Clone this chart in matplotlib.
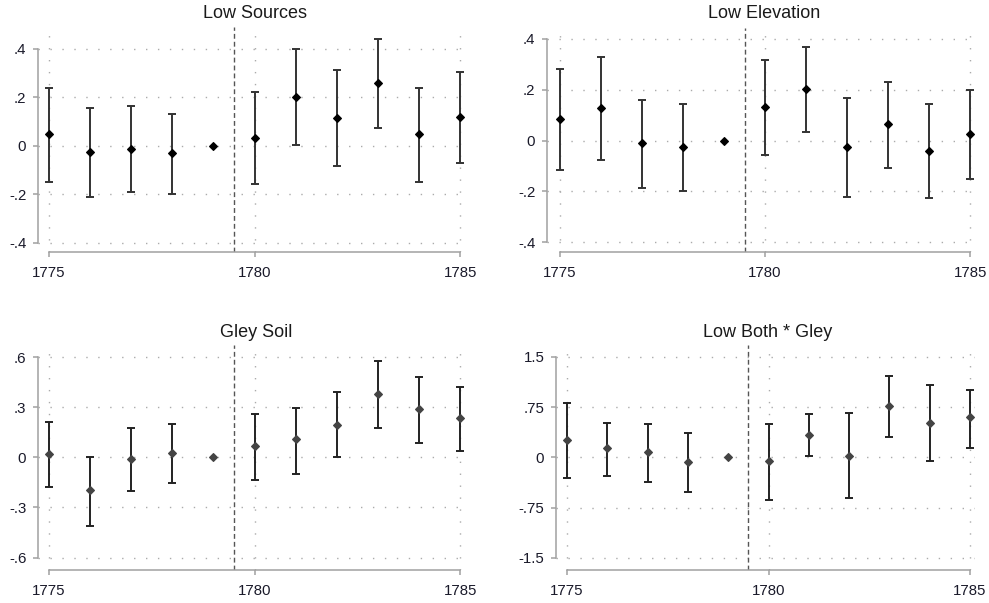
import numpy as np
import matplotlib
matplotlib.use("Agg")
import matplotlib.pyplot as plt

plt.rcParams['font.family'] = ['Liberation Sans', 'DejaVu Sans']

years = [1775, 1776, 1777, 1778, 1779, 1780, 1781, 1782, 1783, 1784, 1785]

titles = ["Low Sources", "Low Elevation", "Gley Soil", "Low Both * Gley"]

# estimates and confidence bounds (1779 is the omitted reference year)
est_sources = [0.048, -0.025, -0.015, -0.029, 0.0, 0.033, 0.201, 0.114, 0.257, 0.048, 0.120]
lo_sources = [-0.150, -0.212, -0.191, -0.199, None, -0.159, 0.003, -0.082, 0.071, -0.150, -0.073]
hi_sources = [0.239, 0.157, 0.162, 0.132, None, 0.220, 0.399, 0.311, 0.438, 0.239, 0.305]

est_elev = [0.084, 0.127, -0.009, -0.024, 0.0, 0.132, 0.202, -0.024, 0.064, -0.039, 0.026]
lo_elev = [-0.114, -0.075, -0.186, -0.197, None, -0.055, 0.033, -0.222, -0.109, -0.227, -0.152]
hi_elev = [0.283, 0.327, 0.161, 0.146, None, 0.316, 0.370, 0.169, 0.230, 0.146, 0.199]

est_gley = [0.018, -0.197, -0.012, 0.026, 0.0, 0.070, 0.108, 0.195, 0.381, 0.291, 0.233]
lo_gley = [-0.179, -0.411, -0.201, -0.155, None, -0.136, -0.098, 0.0, 0.177, 0.088, 0.036]
hi_gley = [0.213, 0.0, 0.177, 0.201, None, 0.259, 0.295, 0.393, 0.578, 0.482, 0.423]

est_both = [0.266, 0.138, 0.079, -0.069, 0.0, -0.049, 0.340, 0.025, 0.760, 0.518, 0.597]
lo_both = [-0.316, -0.276, -0.370, -0.513, None, -0.631, 0.020, -0.612, 0.311, -0.059, 0.143]
hi_both = [0.809, 0.513, 0.493, 0.365, None, 0.493, 0.641, 0.656, 1.209, 1.080, 1.006]

yticks = [[-0.4, -0.2, 0, 0.2, 0.4], [-0.4, -0.2, 0, 0.2, 0.4],
          [-0.6, -0.3, 0, 0.3, 0.6], [-1.5, -0.75, 0, 0.75, 1.5]]
yticklabels = [["-.4", "-.2", "0", ".2", ".4"], ["-.4", "-.2", "0", ".2", ".4"],
               ["-.6", "-.3", "0", ".3", ".6"], ["-1.5", "-.75", "0", ".75", "1.5"]]
xticks = [1775, 1780, 1785]
xticklabels = ["1775", "1780", "1785"]
cutoff = 1779.5

series = [(est_sources, lo_sources, hi_sources),
          (est_elev, lo_elev, hi_elev),
          (est_gley, lo_gley, hi_gley),
          (est_both, lo_both, hi_both)]

W, H = 989, 603
fig = plt.figure(figsize=(W / 100, H / 100), dpi=100)

# pixel layout: (left, right, top, bottom), xlim, ylim
layout = [
    ((38, 465, 27, 252), (1774.732, 1785.12), (-0.4385, 0.489)),
    ((547, 975, 28, 252), (1774.683, 1785.12), (-0.438, 0.443)),
    ((38, 465, 345, 570), (1774.732, 1785.12), (-0.674, 0.672)),
    ((556, 975, 345, 570), (1774.727, 1785.124), (-1.684, 1.679)),
]
title_pos = [(255, 14), (764, 14), (256, 332), (768, 332)]
mcolors = ['black', 'black', '#444444', '#444444']
ecolors = ['#333333', '#333333', '#222222', '#222222']

axis_gray = '#a0a0a0'

for i, ((l, r, t, b), xl, yl) in enumerate(layout):
    ax = fig.add_axes([l / W, 1 - b / H, (r - l) / W, (b - t) / H])
    est, lo, hi = series[i]
    x = np.array(years, dtype=float)
    e = np.array(est, dtype=float)
    lo_a = np.array([np.nan if v is None else v for v in lo])
    hi_a = np.array([np.nan if v is None else v for v in hi])
    m = ~np.isnan(lo_a)
    ax.set_xlim(*xl)
    ax.set_ylim(*yl)
    # grid
    for yt in yticks[i]:
        ax.axhline(yt, color='#ababab', lw=1.0, linestyle=(0, (1, 7.6)), zorder=0)
    for xt in xticks:
        ax.axvline(xt, color='#ababab', lw=1.0, linestyle=(0, (1, 7.6)), zorder=0)
    ax.axvline(cutoff, color='#555555', lw=1.0, linestyle=(0, (3.5, 2.2)), zorder=1)
    ax.errorbar(x[m], e[m], yerr=[e[m] - lo_a[m], hi_a[m] - e[m]], fmt='none',
                ecolor=ecolors[i], elinewidth=1.4, capsize=2.6, capthick=1.4, zorder=2)
    ax.plot(x, e, linestyle='none', marker='D', ms=4.5, color=mcolors[i],
            mec=mcolors[i], mew=0.8, zorder=3)
    for s in ['top', 'right']:
        ax.spines[s].set_visible(False)
    ax.spines['left'].set_color(axis_gray)
    ax.spines['bottom'].set_color(axis_gray)
    ax.spines['left'].set_linewidth(1.1)
    ax.spines['bottom'].set_linewidth(1.1)
    ax.spines['left'].set_bounds(yticks[i][0], yticks[i][-1])
    ax.spines['bottom'].set_bounds(xticks[0], xticks[-1])
    ax.set_yticks(yticks[i])
    ax.set_yticklabels(yticklabels[i])
    ax.set_xticks(xticks)
    ax.set_xticklabels(xticklabels)
    ax.tick_params(axis='both', colors=axis_gray, labelcolor='#1a1a2a',
                   labelsize=10.8, length=3.4, width=1.1)
    ax.tick_params(axis='y', pad=5.0)
    ax.tick_params(axis='x', pad=7.0)
    ax.patch.set_alpha(0)
    tx, ty = title_pos[i]
    fig.text(tx / W, 1 - ty / H, titles[i], ha='center', va='center',
             fontsize=13, color='#1a1a1a')

fig.savefig('out.png', dpi=100, facecolor='white')
